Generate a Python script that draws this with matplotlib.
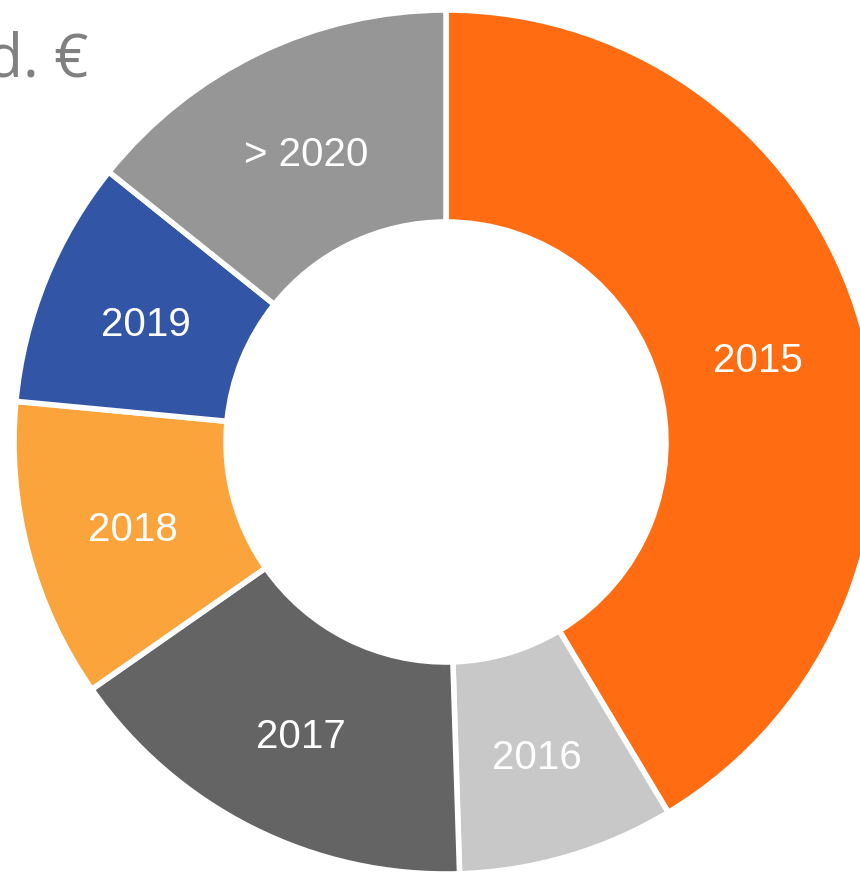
import matplotlib
matplotlib.use("Agg")
import matplotlib.pyplot as plt

categories = ["2015", "2016", "2017", "2018", "2019", "> 2020"]
values = [41.4, 8.1, 15.8, 11.2, 9.25, 14.25]
colors = ["#FF6C11", "#C8C8C8", "#646464", "#FBA43C", "#3355A5", "#969696"]
title = "Mrd. €"

W, H = 860, 872
fig = plt.figure(figsize=(W / 100, H / 100), dpi=100)
ax = fig.add_axes([0, 0, 1, 1])

cx, cy = 446, H - 442
R = 432
wedges, texts = ax.pie(
    values,
    labels=categories,
    colors=colors,
    startangle=90,
    counterclock=False,
    center=(cx, cy),
    radius=R,
    labeldistance=0.75,
    wedgeprops=dict(width=R - 220, edgecolor="white", linewidth=4),
    textprops=dict(color="white", fontsize=29, family="Liberation Sans"),
    frame=True,
)
ax.set_xlim(0, W)
ax.set_ylim(0, H)
ax.set_aspect("equal")
ax.axis("off")
for t in texts:
    t.set_ha("center")
    t.set_va("center")
    x, y = t.get_position()
    t.set_position((x, y - 5))

ax.text(88, H - 77, title, ha="right", va="baseline", fontsize=43,
        color="#808080", family="Open Sans")

fig.savefig("out.png", dpi=100)
